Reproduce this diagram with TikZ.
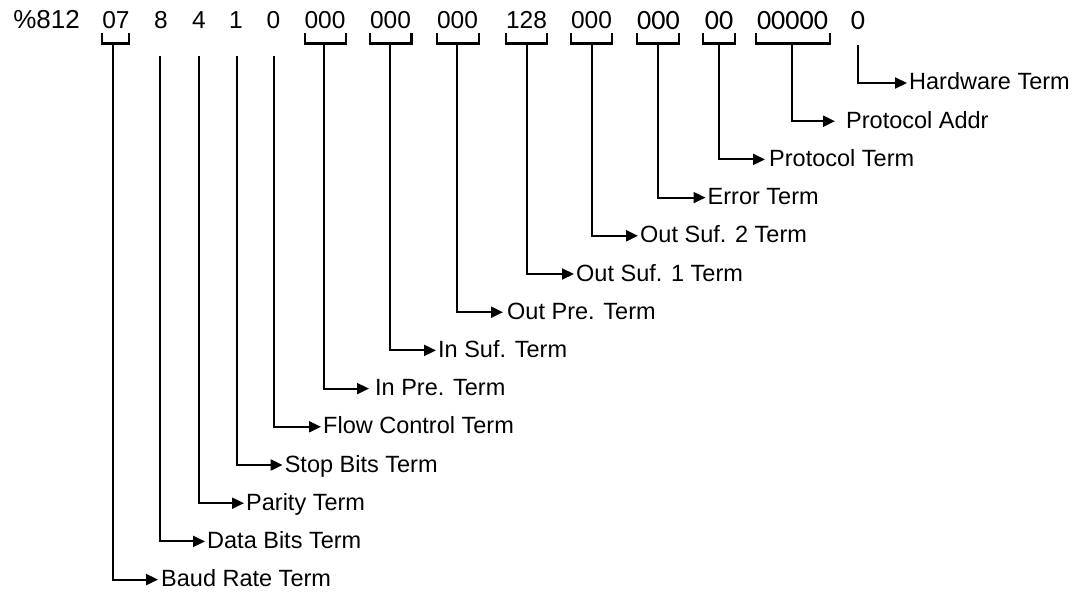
\documentclass[tikz,border=0pt]{standalone}
\usepackage{fontspec}
\setmainfont{Liberation Sans}
\newfontfamily\calfont{Carlito}
\usetikzlibrary{arrows.meta}

\tikzset{
  field/.style={anchor=base, inner sep=0pt, font=\fontsize{24.5}{28}\selectfont},
  calfield/.style={anchor=base, inner sep=0pt, font=\calfont\fontsize{28}{32}\selectfont},
  brace/.style={line width=2.1pt},
  term/.style={anchor=west, inner ysep=0pt, inner xsep=2pt, text height=17pt, text depth=3pt,
    font=\fontsize{23.5}{27}\selectfont},
  link/.style={line width=2.1pt, -{Triangle[length=12pt,width=11pt]}},
}

\begin{document}
\begin{tikzpicture}[x=1pt, y=-1pt]
\useasboundingbox (0,0) rectangle (1077,594);

% the command string
\node[field, font=\fontsize{26}{30}\selectfont] (pct) at (46.5,28.5) {\%812};
\node[field] (baud) at (116,28.5) {07};
\node[field] (data) at (161,28.5) {8};
\node[field] (parity) at (199,28.5) {4};
\node[field] (stop) at (236,28.5) {1};
\node[field] (flow) at (273.5,28.5) {0};
\node[field] (inpre) at (325,28.5) {000};
\node[field] (insuf) at (390.5,28.5) {000};
\node[field] (outpre) at (457.5,28.5) {000};
\node[field] (outsufa) at (526.5,28.5) {128};
\node[field] (outsufb) at (591.5,28.5) {000};
\node[calfield] (error) at (658.5,30) {000};
\node[calfield] (prot) at (719,30) {00};
\node[calfield] (addr) at (792.5,30) {00000};
\node[calfield] (hw) at (858,30) {0};

% brackets under the groups
\draw[brace] (101.7,33) |- (129.3,43.5) -- (129.3,33);
\draw[brace] (304.8,33) |- (346.1,43.5) -- (346.1,33);
\draw[brace] (370,33) |- (411.5,43.5) -- (411.5,33);
\draw[brace] (437,33) |- (478.6,43.5) -- (478.6,33);
\draw[brace] (506,33) |- (547,43.5) -- (547,33);
\draw[brace] (570.6,33) |- (611.6,43.5) -- (611.6,33);
\draw[brace] (637.4,33) |- (678.6,43.5) -- (678.6,33);
\draw[brace] (703,33) |- (735,43.5) -- (735,33);
\draw[brace] (756,33) |- (830,43.5) -- (830,33);

% where each lead starts
\coordinate (baud-s) at (113,42.5);
\coordinate (data-s) at (160,56);
\coordinate (parity-s) at (198.7,56);
\coordinate (stop-s) at (236.6,56);
\coordinate (flow-s) at (273.8,56);
\coordinate (inpre-s) at (323.7,42.5);
\coordinate (insuf-s) at (389.8,42.5);
\coordinate (outpre-s) at (457.3,42.5);
\coordinate (outsufa-s) at (526.9,42.5);
\coordinate (outsufb-s) at (592,42.5);
\coordinate (error-s) at (658.4,42.5);
\coordinate (prot-s) at (719,42.5);
\coordinate (addr-s) at (792,42.5);
\coordinate (hw-s) at (858,45);

% the terms
\node[term] (hw-l) at (907,83) {Hardware Term};
\node[term, inner xsep=11pt] (addr-l) at (835,121.2) {Protocol Addr};
\node[term, inner xsep=4pt] (prot-l) at (765,159.4) {Protocol Term};
\node[term] (error-l) at (705.5,197.6) {Error Term};
\node[term] (outsufb-l) at (638,235.8) {Out Suf. 2 Term};
\node[term] (outsufa-l) at (574,274) {Out Suf. 1 Term};
\node[term, inner xsep=4pt] (outpre-l) at (503,312.2) {Out Pre. Term};
\node[term] (insuf-l) at (436,350.4) {In Suf. Term};
\node[term, inner xsep=6pt] (inpre-l) at (369,388.6) {In Pre. Term};
\node[term] (flow-l) at (321,426.8) {Flow Control Term};
\node[term] (stop-l) at (282.6,465) {Stop Bits Term};
\node[term] (parity-l) at (244,503.2) {Parity Term};
\node[term] (data-l) at (205,541.4) {Data Bits Term};
\node[term, inner xsep=3pt] (baud-l) at (158,579.6) {Baud Rate Term};

% leads
\draw[link] (baud-s) |- (baud-l);
\draw[link] (data-s) |- (data-l);
\draw[link] (parity-s) |- (parity-l);
\draw[link] (stop-s) |- (stop-l);
\draw[link] (flow-s) |- (flow-l);
\draw[link] (inpre-s) |- (inpre-l);
\draw[link] (insuf-s) |- (insuf-l);
\draw[link] (outpre-s) |- (outpre-l);
\draw[link] (outsufa-s) |- (outsufa-l);
\draw[link] (outsufb-s) |- (outsufb-l);
\draw[link] (error-s) |- (error-l);
\draw[link] (prot-s) |- (prot-l);
\draw[link] (addr-s) |- (addr-l);
\draw[link] (hw-s) |- (hw-l);
\end{tikzpicture}
\end{document}
